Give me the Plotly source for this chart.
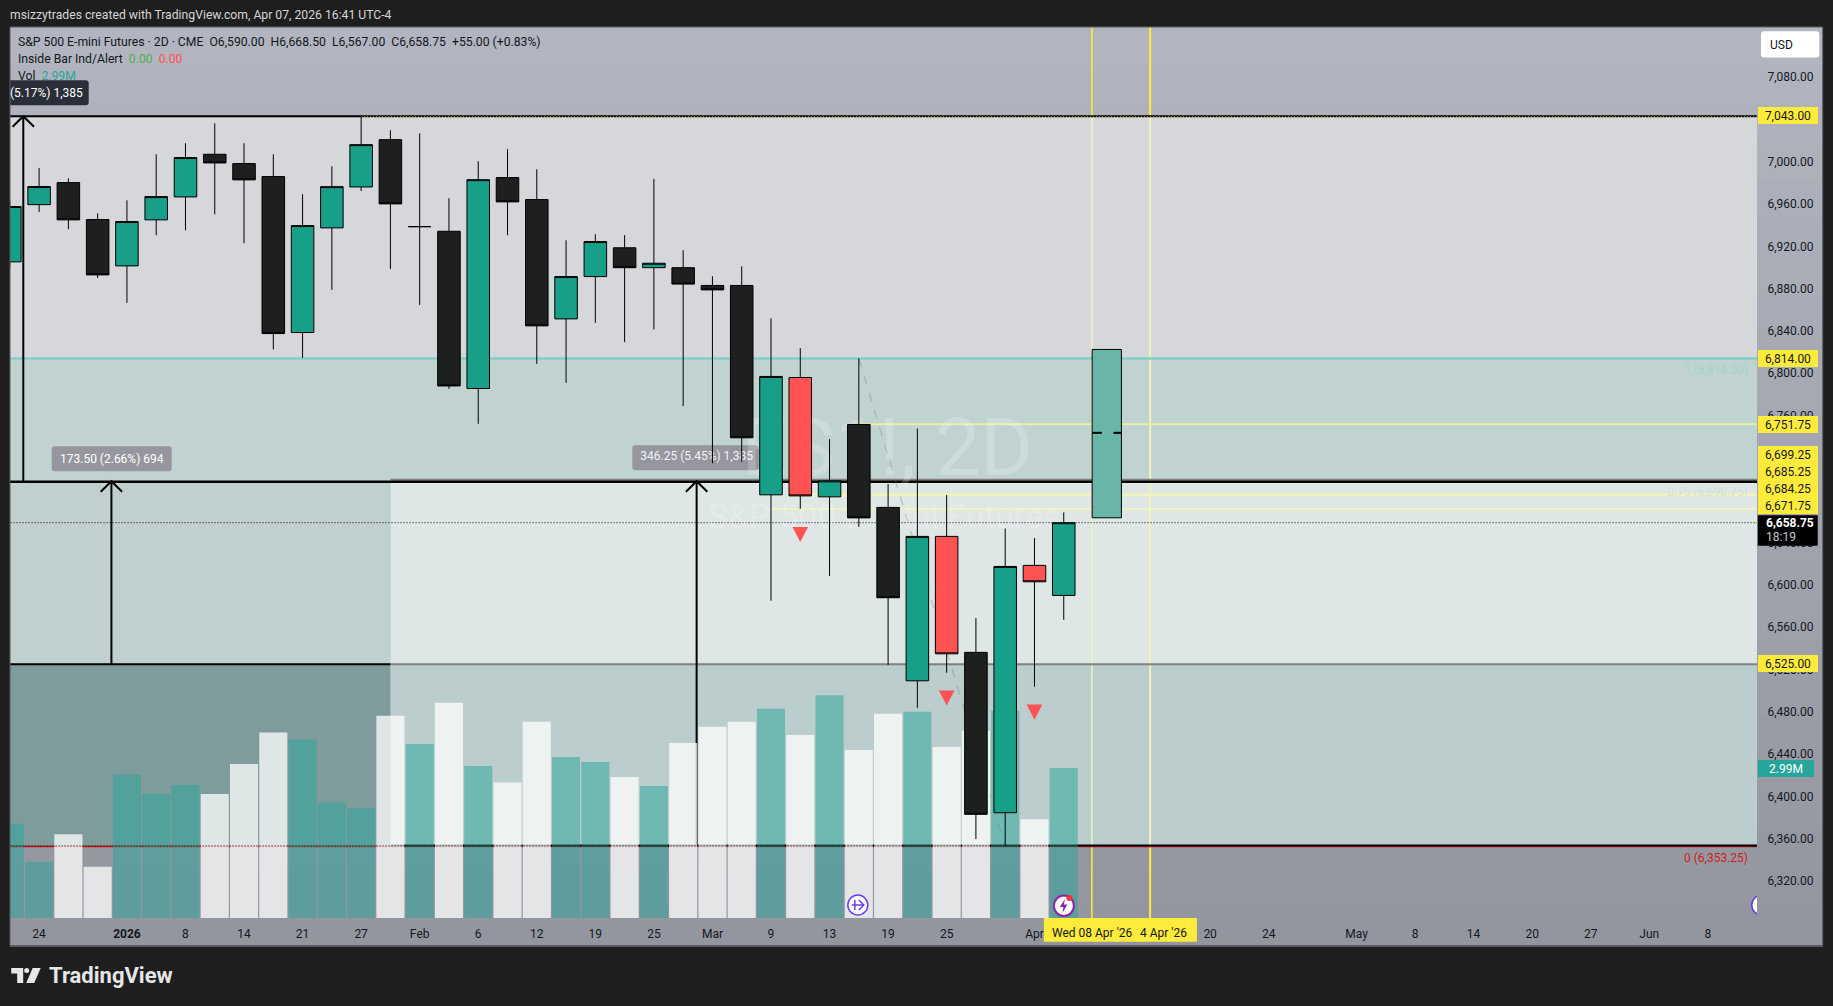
import plotly.graph_objects as go

# bars, oldest first. bar -1 is clipped by the left edge
bar_idx = list(range(-1, 36))
opens = [6905.3, 6959.4, 6980.2, 6945.3, 6901.5, 6945.0, 6966.7, 7007.0, 6998.2, 6985.9, 6838.5, 6937.4, 6976.1,
         7020.8, 6938.6, 6934.2, 6785.6, 6985.0, 6964.2, 6851.4, 6891.4, 6918.6, 6899.8, 6899.8, 6883.0, 6883.0,
         6685.1, 6796.0, 6683.2, 6751.6, 6673.2, 6509.3, 6645.8, 6536.2, 6384.6, 6618.4, 6590.0]
highs = [6963.5, 6994.1, 6984.3, 6951.2, 6963.5, 7007.0, 7017.4, 7036.3, 7017.4, 7007.0, 6969.2, 6995.7, 7043.0,
         7029.7, 7026.8, 6965.4, 7000.4, 7011.8, 6992.8, 6925.7, 6931.4, 6930.6, 6983.7, 6916.3, 6891.7, 6901.0,
         6852.0, 6823.7, 6737.7, 6814.0, 6695.2, 6747.8, 6684.8, 6568.6, 6653.3, 6644.2, 6668.5]
lows = [6900.5, 6952.5, 6936.2, 6890.1, 6866.5, 6930.5, 6935.2, 6950.3, 6923.0, 6822.5, 6814.5, 6878.8, 6972.3,
        6898.6, 6864.6, 6785.2, 6752.2, 6930.5, 6808.9, 6790.9, 6847.6, 6829.4, 6841.5, 6769.0, 6715.0, 6716.3,
        6585.0, 6671.9, 6608.5, 6654.8, 6524.2, 6483.8, 6516.9, 6359.7, 6353.25, 6503.7, 6567.0]
closes = [6957.6, 6976.5, 6945.0, 6893.0, 6943.4, 6967.0, 7003.9, 6998.8, 6982.8, 6837.5, 6939.6, 6976.4, 7016.1,
          6960.1, 6938.6, 6788.0, 6983.0, 6962.0, 6844.8, 6891.4, 6924.5, 6899.8, 6904.0, 6884.3, 6878.8, 6739.0,
          6797.0, 6684.1, 6698.3, 6663.3, 6587.8, 6645.8, 6534.8, 6383.1, 6617.4, 6602.9, 6658.75]
inside_bars = [26, 31, 34]
volumes = [1.88, 1.12, 1.67, 1.02, 2.86, 2.47, 2.65, 2.47, 3.07, 3.70, 3.56, 2.30, 2.19, 4.03, 3.47, 4.29, 3.03, 2.70,
           3.91, 3.21, 3.11, 2.81, 2.63, 3.49, 3.81, 3.91, 4.17, 3.65, 4.44, 3.35, 4.07, 4.11, 3.41, 3.73, 4.13, 1.97,
           2.99]
signal_prices = [6647.7, 6493.0, 6479.7]

time_ticks = [0, 3, 5, 7, 9, 11, 13, 15, 17, 19, 21, 23, 25, 27, 29, 31, 34, 40, 42, 45, 47, 49, 51, 53, 55, 57]
time_labels = ['24', '<b>2026</b>', '8', '14', '21', '27', 'Feb', '6', '12', '19', '25', 'Mar', '9', '13', '19', '25',
               'Apr', '20', '24', 'May', '8', '14', '20', '27', 'Jun', '8']
# 7,040 is hidden by the 7,043 tag in the reference
price_ticks = [6320, 6360, 6400, 6440, 6480, 6520, 6560, 6600, 6640, 6680, 6720, 6760, 6800, 6840, 6880, 6920, 6960,
               7000, 7080]

# tags on the price scale: text, centre of tag in px
tag_labels = ['7,043.00', '6,814.00', '6,751.75', '6,699.25', '6,685.25', '6,684.25', '6,671.75', '6,525.00']
tag_y = [115.7, 358, 424, 454.7, 471.7, 488.7, 505.7, 663.3]

FONT = 'Roboto'
LEFT, RIGHT, TOP, BOTTOM = 10.3, 1757, 26.7, 918
X_RANGE = [-0.994, 58.68]
P_RANGE = [6285.1, 7127.3]
YELLOW = '#ffeb3b'
PALE = '#f1f3ba'
DOTS = '1px,2px'


def px(v):
    return (v - LEFT) / (RIGHT - LEFT)


def py(v):
    return (BOTTOM - v) / (BOTTOM - TOP)


def ix(v):
    return X_RANGE[0] + px(v) * (X_RANGE[1] - X_RANGE[0])


def iy(v):
    return P_RANGE[0] + py(v) * (P_RANGE[1] - P_RANGE[0])


def panel(x0, y0, x1, y1, color, layer='below'):
    return dict(type='rect', xref='paper', yref='paper', x0=px(x0), x1=px(x1), y0=py(y0), y1=py(y1),
                fillcolor=color, line_width=0, layer=layer)


def rounded(x0, y0, x1, y1, color, r=3, layer='below', data=False):
    fx, fy = (ix, iy) if data else (px, py)
    p = 'M %f %f L %f %f Q %f %f %f %f L %f %f Q %f %f %f %f L %f %f Q %f %f %f %f L %f %f Q %f %f %f %f Z' % (
        fx(x0 + r), fy(y0), fx(x1 - r), fy(y0), fx(x1), fy(y0), fx(x1), fy(y0 + r),
        fx(x1), fy(y1 - r), fx(x1), fy(y1), fx(x1 - r), fy(y1),
        fx(x0 + r), fy(y1), fx(x0), fy(y1), fx(x0), fy(y1 - r),
        fx(x0), fy(y0 + r), fx(x0), fy(y0), fx(x0 + r), fy(y0))
    return dict(type='path', xref='x' if data else 'paper', yref='y3' if data else 'paper', path=p, fillcolor=color,
                line_width=0, layer=layer)


def band(x0, x1, p0, p1, color):
    return dict(type='rect', xref='x', yref='y3', x0=x0, x1=x1, y0=p0, y1=p1, fillcolor=color, line_width=0,
                layer='below')


def hline(p, color, width, x0=-2, x1=60, dash='solid', layer='below'):
    return dict(type='line', xref='x', yref='y3', x0=x0, x1=x1, y0=p, y1=p, layer=layer,
                line=dict(color=color, width=width, dash=dash))


def vline(x, p0, p1, color, width):
    return dict(type='line', xref='x', yref='y3', x0=x, x1=x, y0=p0, y1=p1, layer='below',
                line=dict(color=color, width=width))


def arrow(x, p0, p1):
    path = 'M %f %f L %f %f L %f %f' % (x - 0.365, p1 - 10, x, p1, x + 0.365, p1 - 10)
    return [vline(x, p0, p1, 'black', 2),
            dict(type='path', xref='x', yref='y3', path=path, layer='below', line=dict(color='black', width=2))]


def text(x, y, s, color='#131722', size=12, anchor='left', **kw):
    kw.setdefault('borderpad', 0)
    return dict(xref='paper', yref='paper', x=px(x), y=py(y), text=s, showarrow=False, xanchor=anchor,
                yanchor='middle', borderwidth=0, font=dict(family=FONT, size=size, color=color), **kw)


up = [c >= o for o, c in zip(opens, closes)]
green_i = [i for i, u in enumerate(up) if u and bar_idx[i] not in inside_bars]
black_i = [i for i, u in enumerate(up) if not u and bar_idx[i] not in inside_bars]
red_i = [i for i, b in enumerate(bar_idx) if b in inside_bars]

fig = go.Figure()
fig.add_trace(go.Bar(x=bar_idx, y=volumes, width=0.96, yaxis='y', marker_line_width=0,
                     marker_color=['rgba(38,166,154,0.5)' if u else 'rgba(255,255,255,0.75)' for u in up]))
# watermark and the clipped measure label sit under the candles
fig.add_trace(go.Scatter(x=[28.97, 28.87], y=[6723, 6662], yaxis='y2', mode='text',
                         text=['ES1!, 2D', 'S&P 500 E-mini Futures'],
                         textfont=dict(family=FONT, size=[80, 34], color='rgba(255,255,255,0.2)')))
fig.add_trace(go.Scatter(x=[22.46], y=[6721], yaxis='y2', mode='text', text=['346.25 (5.45%) 1,385'],
                         textfont=dict(family=FONT, size=12, color='rgba(255,255,255,0.9)')))

for idx, fill in ((green_i, '#189f87'), (black_i, '#1e1f1f'), (red_i, '#ff5252')):
    fig.add_trace(go.Candlestick(
        x=[bar_idx[i] for i in idx], open=[opens[i] for i in idx], high=[highs[i] for i in idx],
        low=[lows[i] for i in idx], close=[closes[i] for i in idx], yaxis='y3',
        increasing=dict(fillcolor=fill, line=dict(color='black', width=1)),
        decreasing=dict(fillcolor=fill, line=dict(color='black', width=1))))

shapes = []
# frame gradient
steps = 24
for k in range(steps):
    t = k / (steps - 1)
    c = 'rgb(%d,%d,%d)' % (178 - 30 * t, 181 - 31 * t, 191 - 32 * t)
    y0 = TOP + (945.5 - TOP) * k / steps
    shapes.append(panel(LEFT, y0, 1822.7, y0 + (945.5 - TOP) / steps + 1, c))
shapes += [
    band(-2, 60, 6814, 7043, '#d6d7db'),
    band(-2, 60, 6697.5, 6814, '#c1d3d1'),
    band(-2, 12, 6525, 6697.5, '#bfd0cf'),
    band(12, 60, 6525, 6697.5, '#dfe6e6'),
    band(-2, 12, 6353.25, 6525, '#7e9c9b'),
    band(12, 60, 6353.25, 6525, '#bbcdcc'),
]
# time lines, bright outside the drawing's box and washed out inside it
for x, w in ((35.96, 1.5), (37.95, 2)):
    shapes += [vline(x, 7043, 7200, YELLOW, w), vline(x, 6200, 6353.25, YELLOW, w), vline(x, 6353.25, 7043, PALE, w)]
shapes += [
    hline(6814, '#81d0c3', 2.5),
    hline(6751.75, '#e8efa8', 2, x0=28),
    hline(6685.25, PALE, 3, x0=26),
    hline(6671.75, PALE, 2, x0=25),
    hline(6699.25, '#808080', 2, x0=12),
    hline(6697.5, 'black', 2.5),
    hline(6525, '#808080', 2, x0=12),
    hline(6525, 'black', 2, x1=12),
    hline(6658.75, 'black', 1, dash=DOTS),
    hline(7043, 'black', 2),
    hline(7042.3, YELLOW, 1, x0=11, dash=DOTS),
    hline(6352.6, '#d01010', 1.5),
    hline(6353.6, 'black', 2, x0=12),
    hline(6353.25, 'black', 1, x1=35.5, dash=DOTS, layer='above'),
    dict(type='line', xref='x', yref='y3', x0=28, x1=33, y0=6814, y1=6353.25, layer='below',
         line=dict(color='rgba(120,120,130,0.3)', width=1.5, dash='dash')),
]
shapes += arrow(-0.54, 6697.5, 7043) + arrow(2.47, 6525, 6698) + arrow(22.46, 6353.25, 6698)
shapes += [
    rounded(52, 446, 172, 471, '#96979e', data=True),
    rounded(632.5, 445, 759, 470, '#96979e', data=True),
    rounded(6, 80, 89, 105, '#2a2e39', layer='above'),
    dict(type='rect', xref='x', yref='y3', x0=35.97, x1=36.97, y0=6663.4, y1=6822.5, layer='below',
         fillcolor='#69b6a8', line=dict(color='black', width=1)),
    hline(6743.7, 'black', 2, x0=35.97, x1=36.3),
    hline(6743.7, 'black', 2, x0=36.7, x1=36.97),
    panel(0, 0, LEFT - 0.5, 1006, '#1e1e1e', 'above'),
    # price scale furniture
    rounded(1761, 31, 1819.3, 57.3, 'white'),
    panel(1044, 918, 1197, 941.7, YELLOW, 'above'),
    panel(1757.7, 515, 1817.7, 545.7, 'black', 'above'),
    dict(type='rect', xref='paper', yref='paper', x0=px(LEFT), x1=px(1822.7), y0=py(945.5), y1=py(TOP), layer='above',
         line=dict(color='#5a5d63', width=1)),
]
# inside bar signals
for b, p in zip(inside_bars, signal_prices):
    shapes.append(dict(type='path', xref='x', yref='y3', fillcolor='#ff5252', line_width=0, layer='above',
                       path='M %f %f L %f %f L %f %f Z' % (b - 0.268, p + 7.1, b + 0.268, p + 7.1, b, p - 7.1)))
# chart event icons
shapes.append(dict(type='circle', xref='paper', yref='paper', x0=px(848), x1=px(868), y0=py(895), y1=py(915),
                   fillcolor='white', line=dict(color='#6a3cf0', width=1.5), layer='above'))
shapes.append(dict(type='path', xref='paper', yref='paper', layer='above', line=dict(color='#6a3cf0', width=1.5),
                   path='M %f %f L %f %f M %f %f L %f %f L %f %f M %f %f L %f %f' % (
                       px(852), py(905), px(864), py(905), px(859), py(900), px(864), py(905), px(859), py(910),
                       px(855), py(900), px(855), py(910))))
shapes.append(dict(type='circle', xref='paper', yref='paper', x0=px(1054), x1=px(1074), y0=py(895.5), y1=py(916),
                   fillcolor='white', line=dict(color='#8e24aa', width=2), layer='above'))
shapes.append(dict(type='path', xref='paper', yref='paper', layer='above', fillcolor='#8e24aa', line_width=0,
                   path='M %f %f L %f %f L %f %f L %f %f L %f %f L %f %f Z' % (
                       px(1065), py(899), px(1060), py(907), px(1063.5), py(907), px(1062.5), py(913),
                       px(1067.5), py(904.5), px(1064), py(904.5))))
shapes.append(dict(type='circle', xref='paper', yref='paper', x0=px(1066.5), x1=px(1072.5), y0=py(895), y1=py(901),
                   fillcolor='#f23645', line_width=0, layer='above'))
shapes.append(dict(type='circle', xref='x', yref='paper', x0=58.5, x1=59.2, y0=py(895), y1=py(915),
                   fillcolor='white', line=dict(color='#5e35f0', width=1.5), layer='above'))
# logo
shapes.append(dict(type='path', xref='paper', yref='paper', fillcolor='#e6e6e6', line_width=0, layer='above',
                   path='M %f %f L %f %f L %f %f L %f %f L %f %f L %f %f Z' % (
                       px(11.5), py(968), px(23.5), py(968), px(23.5), py(983), px(17.5), py(983),
                       px(17.5), py(973.5), px(11.5), py(973.5))))
shapes.append(dict(type='circle', xref='paper', yref='paper', fillcolor='#e6e6e6', line_width=0, layer='above',
                   x0=px(24.5), x1=px(29.5), y0=py(968), y1=py(973)))
shapes.append(dict(type='path', xref='paper', yref='paper', fillcolor='#e6e6e6', line_width=0, layer='above',
                   path='M %f %f L %f %f L %f %f L %f %f Z' % (
                       px(33), py(968), px(41), py(968), px(34.5), py(983), px(26.5), py(983))))

annotations = [
    text(10, 15, 'msizzytrades created with TradingView.com, Apr 07, 2026 16:41 UTC-4', '#d6d6d6', size=12.2),
    text(18, 41.7, 'S&P 500 E-mini Futures · 2D · CME&nbsp;&nbsp;O6,590.00&nbsp;&nbsp;H6,668.50&nbsp;&nbsp;L6,567.00'
                   '&nbsp;&nbsp;C6,658.75&nbsp;&nbsp;+55.00 (+0.83%)', size=12.2),
    text(18, 58.7, 'Inside Bar Ind/Alert&nbsp;&nbsp;<span style="color:#4caf50">0.00</span>&nbsp;&nbsp;'
                   '<span style="color:#ff5252">0.00</span>', size=12.2),
    text(18, 75.7, 'Vol&nbsp;&nbsp;<span style="color:#26a69a">2.99M</span>', size=12.2),
    text(83, 92.5, '(5.17%) 1,385', 'white', anchor='right'),
    text(112, 458.5, '173.50 (2.66%) 694', 'white', anchor='center'),
    text(1748, 370, '1 (6,814.00)', '#9dd7cc', anchor='right'),
    text(1748, 492, '0.75 (6,698.75)', '#cfe2de', anchor='right'),
    text(1748, 858, '0 (6,353.25)', '#d01c1c', anchor='right'),
    text(1770, 44.3, 'USD'),
    text(1766, 522.7, '<b>6,658.75</b>', 'white'),
    text(1766, 536.7, '18:19', '#c8c8c8'),
    text(1091.7, 932.7, "Wed 08 Apr '26", anchor='center'),
    text(1164, 932.7, "4 Apr '26", anchor='center'),
    text(49, 976, '<b>TradingView</b>', '#e6e6e6', size=22),
    text(1758, 768.6, '2.99M', 'white', width=56, height=17, bgcolor='#26a69a', align='center'),
]
for s, y in zip(tag_labels, tag_y):
    annotations.append(text(1757.7, y, s, '#131722', width=60, height=17, bgcolor=YELLOW, align='center'))

tick_font = dict(family=FONT, size=12, color='#131722')
fig.update_layout(
    width=1833, height=1006, showlegend=False, paper_bgcolor='#1e1e1e', plot_bgcolor='rgba(0,0,0,0)',
    margin=dict(l=LEFT, r=1833 - RIGHT, t=TOP, b=1006 - BOTTOM, autoexpand=False), boxgap=0.23, boxgroupgap=0,
    shapes=shapes, annotations=annotations, hovermode=False,
    xaxis=dict(range=X_RANGE, showgrid=False, zeroline=False, rangeslider_visible=False, tickmode='array',
               tickvals=time_ticks, ticktext=time_labels, tickfont=tick_font, ticks='outside', ticklen=5,
               tickcolor='rgba(0,0,0,0)', showline=False),
    yaxis=dict(range=[0, 17.76], visible=False),
    yaxis2=dict(range=P_RANGE, overlaying='y', visible=False),
    yaxis3=dict(range=P_RANGE, overlaying='y', side='right', anchor='x', showgrid=False, zeroline=False,
                tickmode='array', tickvals=price_ticks, ticktext=['{:,.2f}'.format(v) for v in price_ticks],
                tickfont=tick_font, ticks='outside', ticklen=7, tickcolor='rgba(0,0,0,0)'),
)
fig.write_html('out.html', config=dict(displayModeBar=False), post_script="document.body.style.margin='0';")
